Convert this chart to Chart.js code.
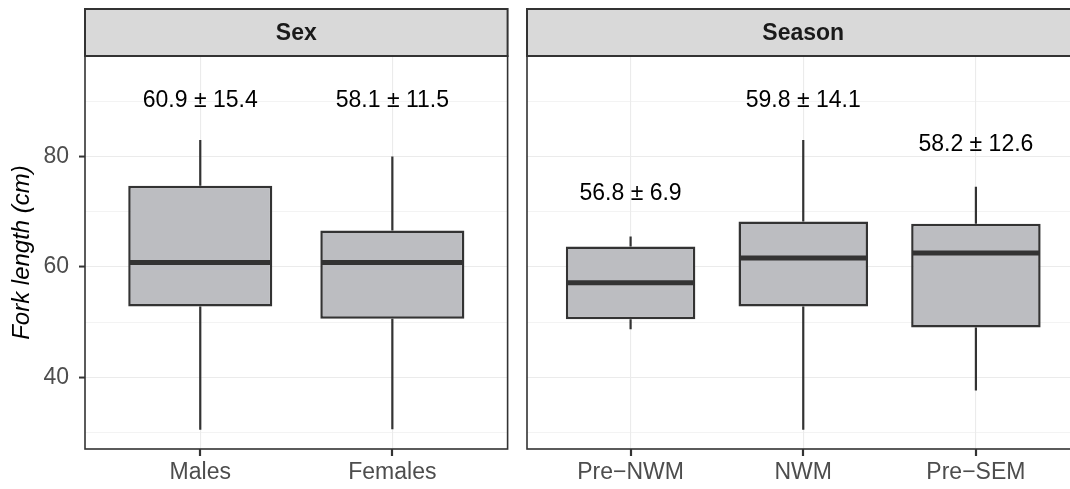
<!DOCTYPE html>
<html>
<head>
<meta charset="utf-8">
<script src="https://cdn.jsdelivr.net/npm/chart.js@4.4.1/dist/chart.umd.min.js"></script>
<style>
  html, body { margin: 0; padding: 0; background: #ffffff; overflow: hidden; width: 1070px; height: 489px; }
  #wrap { position: relative; width: 1070px; height: 489px; overflow: hidden; }
  canvas { position: absolute; top: 0; }
  #cLeft { left: 0px; }
  #cRight { left: 515px; }
</style>
</head>
<body>
<div id="wrap">
  <canvas id="cLeft" width="520" height="489"></canvas>
  <canvas id="cRight" width="570" height="489"></canvas>
</div>
<script>
// ---------- DATA ----------
const sexCategories = ['Males', 'Females'];
const sexMin    = [30.5, 30.6];
const sexQ1     = [52.8, 50.6];
const sexMedian = [60.8, 60.8];
const sexQ3     = [74.7, 66.6];
const sexMax    = [83.0, 80.0];
const sexLabels = ['60.9 \u00B1 15.4', '58.1 \u00B1 11.5'];
const sexLabelY = [90.2, 90.2];

const seasonCategories = ['Pre\u2212NWM', 'NWM', 'Pre\u2212SEM'];
const seasonMin    = [48.7, 30.5, 37.6];
const seasonQ1     = [50.5, 52.8, 49.0];
const seasonMedian = [57.1, 61.6, 62.5];
const seasonQ3     = [63.7, 68.2, 67.8];
const seasonMax    = [65.5, 83.0, 74.5];
const seasonLabels = ['56.8 \u00B1 6.9', '59.8 \u00B1 14.1', '58.2 \u00B1 12.6'];
const seasonLabelY = [73.3, 90.2, 82.1];

const yMajorTicks = [40, 60, 80];
const yMinorTicks = [30, 50, 70, 90];
const yRange = [27.0, 98.2];
const yTitle = 'Fork length (cm)';

// ---------- STYLE ----------
const FONT = "'Liberation Sans', Arial, Helvetica, sans-serif";
const DARK = '#333333';
const BOXFILL = '#bcbdc1';
const GRID = '#ebebeb';

function boxPlugin(cats, mins, q1, med, q3, maxs, labels, labelY, stripText) {
  return {
    id: 'boxExtras',
    beforeDatasetsDraw(chart) {
      const ctx = chart.ctx, xs = chart.scales.x, ys = chart.scales.y;
      ctx.save();
      ctx.strokeStyle = DARK;
      ctx.lineWidth = 2.2;
      cats.forEach((c, i) => {
        const x = xs.getPixelForValue(i);
        ctx.beginPath();
        ctx.moveTo(x, ys.getPixelForValue(q3[i]));
        ctx.lineTo(x, ys.getPixelForValue(maxs[i]));
        ctx.moveTo(x, ys.getPixelForValue(q1[i]));
        ctx.lineTo(x, ys.getPixelForValue(mins[i]));
        ctx.stroke();
      });
      ctx.restore();
    },
    afterDatasetsDraw(chart) {
      const ctx = chart.ctx, xs = chart.scales.x, ys = chart.scales.y;
      const meta = chart.getDatasetMeta(0);
      ctx.save();
      ctx.strokeStyle = DARK;
      ctx.lineWidth = 5;
      meta.data.forEach((bar, i) => {
        const p = bar.getProps(['x', 'width'], true);
        const y = ys.getPixelForValue(med[i]);
        ctx.beginPath();
        ctx.moveTo(p.x - p.width / 2 + 1, y);
        ctx.lineTo(p.x + p.width / 2 - 1, y);
        ctx.stroke();
      });
      ctx.fillStyle = '#000000';
      ctx.font = '23px ' + FONT;
      ctx.textAlign = 'center';
      ctx.textBaseline = 'middle';
      labels.forEach((t, i) => {
        ctx.fillText(t, xs.getPixelForValue(i), ys.getPixelForValue(labelY[i]));
      });
      ctx.restore();
    },
    afterDraw(chart) {
      const ctx = chart.ctx, a = chart.chartArea, xs = chart.scales.x;
      ctx.save();
      // panel border
      ctx.strokeStyle = DARK;
      ctx.lineWidth = 1.6;
      ctx.strokeRect(a.left, a.top, a.right - a.left, a.bottom - a.top);
      // x-axis tick marks
      ctx.lineWidth = 2.2;
      for (let i = 0; i < cats.length; i++) {
        const x = Math.round(xs.getPixelForValue(i));
        ctx.beginPath();
        ctx.moveTo(x, a.bottom);
        ctx.lineTo(x, a.bottom + 7);
        ctx.stroke();
      }
      // strip
      const stripTop = 9;
      ctx.fillStyle = '#d9d9d9';
      ctx.fillRect(a.left, stripTop, a.right - a.left, a.top - stripTop);
      ctx.lineWidth = 2;
      ctx.strokeRect(a.left, stripTop, a.right - a.left, a.top - stripTop);
      ctx.fillStyle = '#1a1a1a';
      ctx.font = 'bold 23px ' + FONT;
      ctx.textAlign = 'center';
      ctx.textBaseline = 'middle';
      ctx.fillText(stripText, (a.left + a.right) / 2, (stripTop + a.top) / 2 + 1);
      ctx.restore();
    }
  };
}

function makeChart(canvasId, cats, mins, q1, med, q3, maxs, labels, labelY, stripText, showY, padding) {
  const data = cats.map((c, i) => ({ x: i, y: [q1[i], q3[i]] }));
  return new Chart(document.getElementById(canvasId), {
    type: 'bar',
    data: {
      datasets: [{
        data: data,
        backgroundColor: BOXFILL,
        borderColor: DARK,
        borderWidth: 2.5,
        borderSkipped: false,
        categoryPercentage: 1.0,
        barPercentage: 0.75
      }]
    },
    options: {
      responsive: false,
      animation: false,
      devicePixelRatio: 1,
      layout: { padding: padding },
      plugins: { legend: { display: false }, tooltip: { enabled: false } },
      scales: {
        x: {
          type: 'linear',
          min: -0.6,
          max: cats.length - 0.4,
          offset: false,
          afterBuildTicks(scale) { scale.ticks = cats.map((c, i) => ({ value: i })); },
          afterFit(scale) { scale.height = 40; },
          ticks: {
            autoSkip: false, maxRotation: 0, padding: 4,
            color: '#4d4d4d',
            font: { family: FONT, size: 23 },
            callback: (v) => cats[v]
          },
          grid: { offset: false, color: GRID, lineWidth: 1.1, tickColor: 'rgba(0,0,0,0)', tickLength: 6 },
          border: { display: false }
        },
        y: {
          type: 'linear',
          min: yRange[0],
          max: yRange[1],
          afterBuildTicks(scale) {
            scale.ticks = yMinorTicks.concat(yMajorTicks).sort((a, b) => a - b).map(v => ({ value: v }));
          },
          afterFit(scale) { scale.width = showY ? 85 : 0; },
          ticks: {
            display: showY,
            padding: 10,
            color: '#4d4d4d',
            font: { family: FONT, size: 23 },
            callback: (v) => yMajorTicks.includes(v) ? String(v) : ''
          },
          grid: {
            color: GRID,
            lineWidth: (c) => yMajorTicks.includes(c.tick && c.tick.value) ? 1.1 : 0.6,
            drawTicks: showY,
            tickLength: 6,
            tickWidth: 2,
            tickColor: (c) => yMajorTicks.includes(c.tick && c.tick.value) ? DARK : 'rgba(0,0,0,0)'
          },
          border: { display: false },
          title: {
            display: showY,
            text: yTitle,
            color: '#000000',
            font: { family: FONT, size: 24, style: 'italic' },
            padding: { top: 8, bottom: 0 }
          }
        }
      }
    },
    plugins: [boxPlugin(cats, mins, q1, med, q3, maxs, labels, labelY, stripText)]
  });
}

makeChart('cLeft', sexCategories, sexMin, sexQ1, sexMedian, sexQ3, sexMax, sexLabels, sexLabelY,
  'Sex', true, { left: 0, right: 12.4, top: 56, bottom: 0 });
makeChart('cRight', seasonCategories, seasonMin, seasonQ1, seasonMedian, seasonQ3, seasonMax, seasonLabels, seasonLabelY,
  'Season', false, { left: 12, right: 5.5, top: 56, bottom: 0 });
</script>
</body>
</html>
